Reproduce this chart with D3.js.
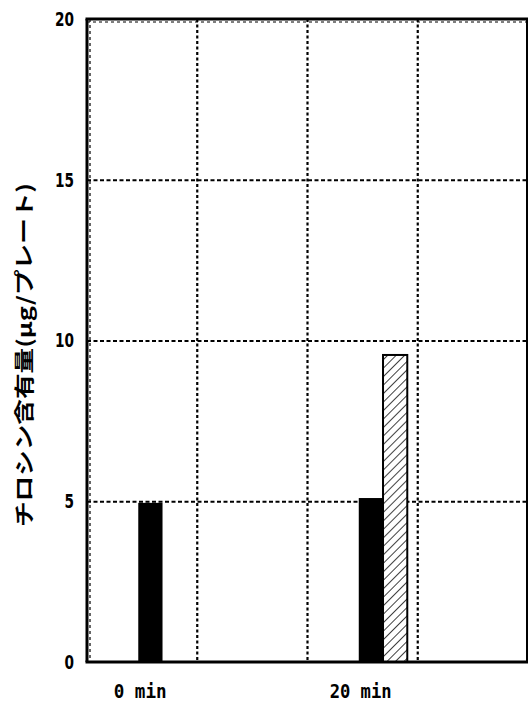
<!DOCTYPE html>
<html>
<head>
<meta charset="utf-8">
<script src="https://cdn.jsdelivr.net/npm/d3@7"></script>
<style>
  body { margin: 0; background: #fff; }
  svg { display: block; }
</style>
</head>
<body>
<svg id="chart" width="531" height="707"></svg>
<script>
// groups along the x axis (only two carry a label)
const categories = ['0 min', '10 min', '20 min', '30 min'];
const tickLabels = ['0 min', '', '20 min', ''];
const series = ['solid', 'hatched'];
// tyrosine content, µg/plate
const solidValues = [4.95, null, 5.1, null];
const hatchedValues = [null, null, 9.55, null];
const yTicks = [0, 5, 10, 15, 20];

const W = 531, H = 707;
const margin = { top: 19, right: 3, bottom: 45, left: 87 };
const innerW = W - margin.left - margin.right;
const innerH = H - margin.top - margin.bottom;

const svg = d3.select('#chart');

const defs = svg.append('defs');
const pat = defs.append('pattern')
  .attr('id', 'hatch')
  .attr('patternUnits', 'userSpaceOnUse')
  .attr('width', 6)
  .attr('height', 6)
  .attr('patternTransform', 'rotate(45)');
pat.append('rect').attr('width', 6).attr('height', 6).attr('fill', '#fff');
pat.append('line')
  .attr('x1', 0).attr('y1', 0).attr('x2', 0).attr('y2', 6)
  .attr('stroke', '#000').attr('stroke-width', 1.5);

const x = d3.scaleBand().domain(categories).range([0, innerW]).padding(0);
const xs = d3.scaleBand().domain(series)
  .range([x.bandwidth() * 0.465, x.bandwidth() * 0.905]).padding(0);
const y = d3.scaleLinear().domain([0, 20]).range([innerH, 0]);

const g = svg.append('g').attr('transform', `translate(${margin.left},${margin.top})`);

// dotted grid
g.append('g').selectAll('line').data(yTicks.filter(d => d > 0 && d < 20)).join('line')
  .attr('x1', 0).attr('x2', innerW)
  .attr('y1', d => y(d) + 0.5).attr('y2', d => y(d) + 0.5)
  .attr('stroke', '#000').attr('stroke-width', 2).attr('stroke-dasharray', '4,2.5');
g.append('g').selectAll('line').data(categories.slice(1)).join('line')
  .attr('x1', d => x(d)).attr('x2', d => x(d))
  .attr('y1', 0).attr('y2', innerH)
  .attr('stroke', '#000').attr('stroke-width', 2.2).attr('stroke-dasharray', '3,2.5');
// inner dotted edges along left and top
g.append('line')
  .attr('x1', 3).attr('x2', 3).attr('y1', 0).attr('y2', innerH)
  .attr('stroke', '#000').attr('stroke-width', 1.2).attr('stroke-dasharray', '3,3');
g.append('line')
  .attr('x1', 0).attr('x2', innerW).attr('y1', 3).attr('y2', 3)
  .attr('stroke', '#000').attr('stroke-width', 1).attr('stroke-dasharray', '3,3');

const rows = categories.map((c, i) => ({ cat: c, solid: solidValues[i], hatched: hatchedValues[i] }));

const groups = g.selectAll('g.grp').data(rows).join('g')
  .attr('class', 'grp')
  .attr('transform', d => `translate(${x(d.cat)},0)`);

groups.selectAll('rect').data(d => series.map(s => ({ s, v: d[s] })).filter(e => e.v != null)).join('rect')
  .attr('x', d => xs(d.s))
  .attr('width', xs.bandwidth())
  .attr('y', d => y(d.v))
  .attr('height', d => y(0) - y(d.v))
  .attr('fill', d => d.s === 'solid' ? '#000' : 'url(#hatch)')
  .attr('stroke', '#000')
  .attr('stroke-width', d => d.s === 'solid' ? 0 : 2);

// frame
g.append('line').attr('x1', -1.5).attr('x2', innerW).attr('y1', 0).attr('y2', 0)
  .attr('stroke', '#000').attr('stroke-width', 3);
g.append('line').attr('x1', 0).attr('x2', 0).attr('y1', 0).attr('y2', innerH)
  .attr('stroke', '#000').attr('stroke-width', 3);
g.append('line').attr('x1', -1.5).attr('x2', innerW).attr('y1', innerH).attr('y2', innerH)
  .attr('stroke', '#000').attr('stroke-width', 3);
g.append('line').attr('x1', innerW - 1).attr('x2', innerW - 1).attr('y1', 0).attr('y2', innerH)
  .attr('stroke', '#000').attr('stroke-width', 2);

// y axis labels (tall, narrow digits)
g.append('g')
  .call(d3.axisLeft(y).tickValues(yTicks).tickSize(0).tickPadding(13))
  .call(a => a.select('.domain').remove())
  .call(a => a.selectAll('text')
    .attr('font-family', '"DejaVu Sans", sans-serif')
    .attr('font-weight', 'bold')
    .attr('font-size', 20)
    .attr('textLength', d => String(d).length * 9.5)
    .attr('lengthAdjust', 'spacingAndGlyphs')
    .attr('fill', '#000'));

// x axis labels
const xLabelLen = { '0 min': 53, '20 min': 62 };
g.append('g')
  .attr('transform', `translate(0,${innerH})`)
  .call(d3.axisBottom(x).tickSize(0).tickPadding(22).tickFormat((d, i) => tickLabels[i]))
  .call(a => a.select('.domain').remove())
  .call(a => a.selectAll('text')
    .attr('font-family', '"DejaVu Sans Mono", monospace')
    .attr('font-weight', 'bold')
    .attr('font-size', 20)
    .attr('dx', -2)
    .each(function (d, i) {
      const t = tickLabels[i];
      if (t) d3.select(this).attr('textLength', xLabelLen[t]).attr('lengthAdjust', 'spacingAndGlyphs');
    })
    .attr('fill', '#000'));

// y title
svg.append('text')
  .attr('transform', `translate(32,${355}) rotate(-90)`)
  .attr('text-anchor', 'middle')
  .attr('font-family', '"Noto Sans CJK JP", sans-serif')
  .attr('font-weight', 'bold')
  .attr('font-size', 20)
  .attr('textLength', 344)
  .attr('lengthAdjust', 'spacingAndGlyphs')
  .attr('fill', '#000')
  .text('チロシン含有量(μg/プレート)');
</script>
</body>
</html>
